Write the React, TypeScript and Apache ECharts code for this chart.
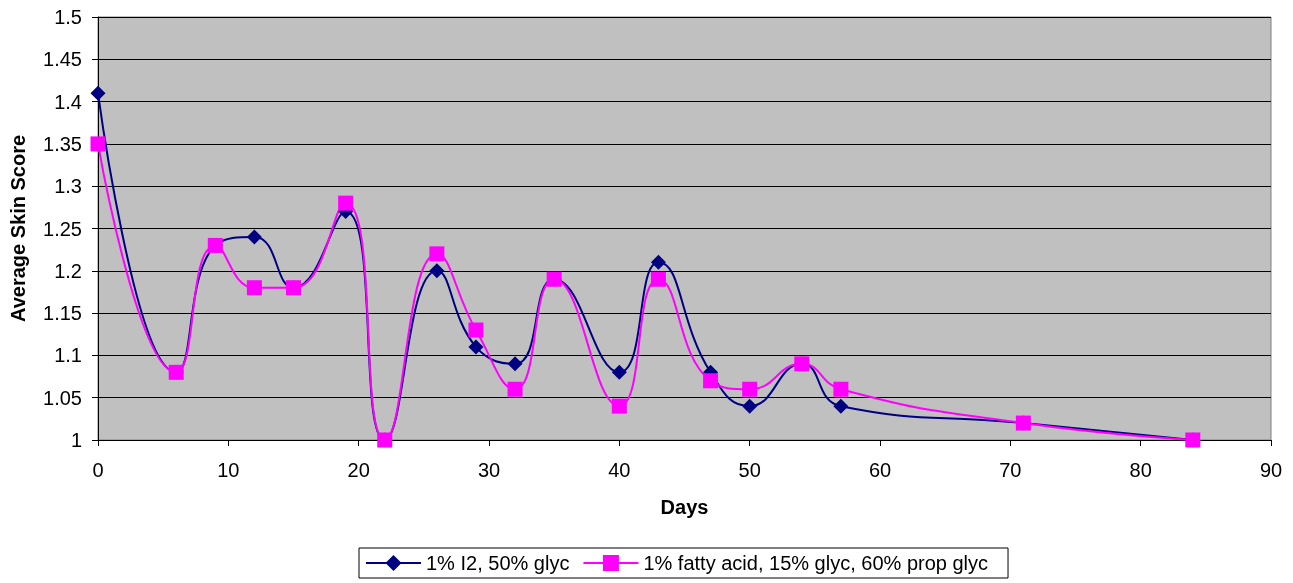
import React, { useEffect, useRef } from "react";
import * as echarts from "echarts";

const days = [0, 6, 9, 12, 15, 19, 22, 26, 29, 32, 35, 40, 43, 47, 50, 54, 57, 71, 84];
const seriesA = [1.41, 1.08, 1.23, 1.24, 1.18, 1.27, 1.0, 1.2, 1.11, 1.09, 1.19, 1.08, 1.21, 1.08, 1.04, 1.09, 1.04, 1.02, 1.0];
const seriesB = [1.35, 1.08, 1.23, 1.18, 1.18, 1.28, 1.0, 1.22, 1.13, 1.06, 1.19, 1.04, 1.19, 1.07, 1.06, 1.09, 1.06, 1.02, 1.0];
const nameA = "1% I2, 50% glyc";
const nameB = "1% fatty acid, 15% glyc, 60% prop glyc";

export default function App() {
  const ref = useRef<HTMLDivElement>(null);
  useEffect(() => {
    if (!ref.current) return;
    const chart = echarts.init(ref.current, null, { renderer: "svg" });
    const font = "Arial, 'Liberation Sans', sans-serif";
    chart.setOption({
      animation: false,
      textStyle: { fontFamily: font },
      grid: { left: 98, right: 22, top: 17, bottom: 143, containLabel: false, show: true, backgroundColor: "#C0C0C0", borderColor: "#808080", borderWidth: 1 },
      legend: {
        top: 548,
        left: 359,
        data: [nameA, nameB],
        borderColor: "#000",
        borderWidth: 1,
        padding: [5, 20, 5, 6],
        itemGap: 13,
        itemWidth: 55,
        itemHeight: 20,
        textStyle: { fontSize: 20, color: "#000", fontFamily: font },
      },
      xAxis: {
        type: "value",
        min: 0,
        max: 90,
        interval: 10,
        name: "Days",
        nameLocation: "middle",
        nameGap: 57,
        nameTextStyle: { fontSize: 20, fontWeight: "bold", color: "#000", fontFamily: font },
        axisLine: { lineStyle: { color: "#000", width: 1 } },
        axisTick: { show: true, lineStyle: { color: "#000" }, length: 6 },
        axisLabel: { fontSize: 20, color: "#000", margin: 20, fontFamily: font },
        splitLine: { show: false },
      },
      yAxis: {
        type: "value",
        min: 1,
        max: 1.5,
        interval: 0.05,
        name: "Average Skin Score",
        nameLocation: "middle",
        nameGap: 70,
        nameTextStyle: { fontSize: 20, fontWeight: "bold", color: "#000", fontFamily: font },
        axisLine: { show: true, lineStyle: { color: "#000", width: 1 } },
        axisTick: { show: true, lineStyle: { color: "#000" }, length: 6 },
        axisLabel: { fontSize: 20, color: "#000", margin: 16, fontFamily: font, formatter: (v: number) => String(Math.round(v * 100) / 100) },
        splitLine: { show: true, lineStyle: { color: "#000", width: 1 } },
      },
      series: [
        {
          name: nameA,
          type: "line",
          data: days.map((d, i) => [d, seriesA[i]]),
          smooth: 0.5,
          symbol: "diamond",
          symbolSize: 15,
          itemStyle: { color: "#000080" },
          lineStyle: { color: "#000080", width: 2 },
        },
        {
          name: nameB,
          type: "line",
          data: days.map((d, i) => [d, seriesB[i]]),
          smooth: 0.5,
          symbol: "rect",
          symbolSize: 15,
          itemStyle: { color: "#FF00FF" },
          lineStyle: { color: "#FF00FF", width: 2 },
        },
      ],
    });
    return () => chart.dispose();
  }, []);
  return <div ref={ref} style={{ position: "fixed", left: 0, top: 0, width: 1293, height: 583 }} />;
}
